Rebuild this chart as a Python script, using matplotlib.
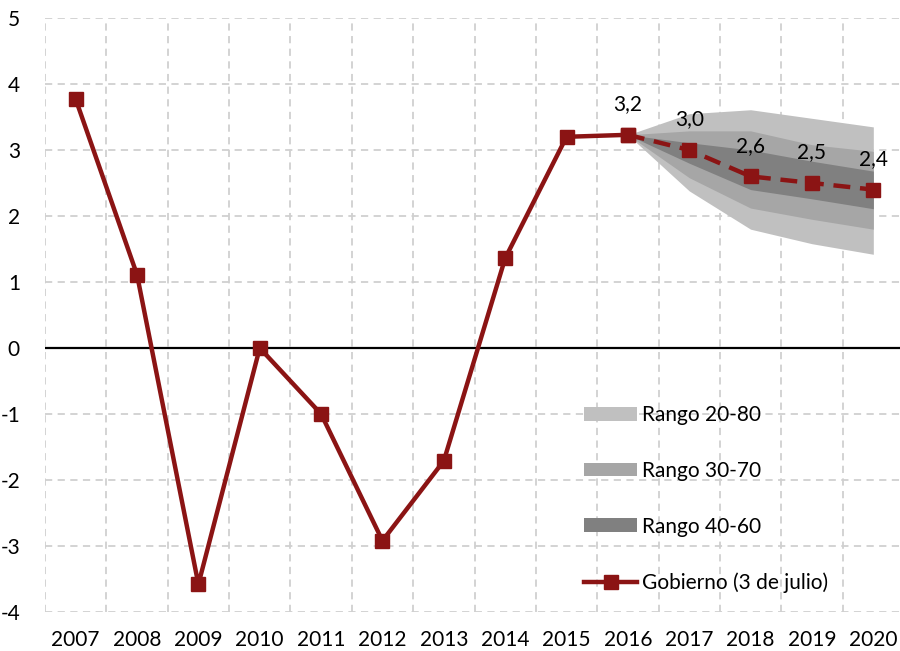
import matplotlib.pyplot as plt
import numpy as np

years = ["2007", "2008", "2009", "2010", "2011", "2012", "2013",
         "2014", "2015", "2016", "2017", "2018", "2019", "2020"]
# historical growth (%)
gobierno_hist = [3.77, 1.11, -3.58, 0.0, -1.0, -2.92, -1.71, 1.36, 3.2, 3.23]
# forecast, starting at 2016
fc_years = ["2016", "2017", "2018", "2019", "2020"]
gobierno_fc = [3.23, 3.0, 2.6, 2.5, 2.4]
fc_labels = ["3,2", "3,0", "2,6", "2,5", "2,4"]

r20_80_hi = [3.23, 3.55, 3.61, 3.48, 3.35]
r20_80_lo = [3.23, 2.38, 1.80, 1.58, 1.42]
r30_70_hi = [3.23, 3.29, 3.29, 3.08, 2.98]
r30_70_lo = [3.23, 2.58, 2.12, 1.95, 1.80]
r40_60_hi = [3.23, 3.11, 3.0, 2.83, 2.68]
r40_60_lo = [3.23, 2.80, 2.40, 2.26, 2.11]

red = "#8b1414"
plt.rcParams['font.family'] = ['Lato', 'DejaVu Sans']
plt.rcParams['axes.unicode_minus'] = False

fig = plt.figure(figsize=(9, 6.51), dpi=100)
ax = fig.add_axes([45 / 900, 39 / 651, 859 / 900, 594 / 651])

x = np.arange(len(years))
xf = np.array([years.index(y) for y in fc_years])

ax.fill_between(xf, r20_80_lo, r20_80_hi, color="#c0c0c0", lw=0, label="Rango 20-80", zorder=2)
ax.fill_between(xf, r30_70_lo, r30_70_hi, color="#a6a6a6", lw=0, label="Rango 30-70", zorder=2)
ax.fill_between(xf, r40_60_lo, r40_60_hi, color="#808080", lw=0, label="Rango 40-60", zorder=2)

ax.plot(x[:len(gobierno_hist)], gobierno_hist, color=red, lw=3.2, marker="s", ms=10,
        label="Gobierno (3 de julio)", zorder=4)
ax.plot(xf, gobierno_fc, color=red, lw=3.2, ls=(0, (3.8, 2.2)), marker="s", ms=10, zorder=4)

for xi, v, t in zip(xf, gobierno_fc, fc_labels):
    ax.annotate(t, (xi, v), xytext=(0, 22), textcoords="offset points",
                ha="center", va="center", fontsize=15)

ax.axhline(0, color="black", lw=1.6, zorder=3)

ax.set_xlim(-0.5, 13.5)
ax.set_ylim(-4, 5)
ax.set_yticks(range(-4, 6))
ax.set_xticks(x)
ax.set_xticklabels(years)
ax.set_xticks(np.arange(-0.5, 14, 1), minor=True)
ax.tick_params(which="both", length=0, labelsize=15)
ax.tick_params(axis="y", pad=18)
ax.tick_params(axis="x", pad=13)
ax.grid(which="major", axis="y", color="#d0d0d0", ls=(0, (4, 3)), lw=1.3, zorder=0)
ax.grid(which="minor", axis="x", color="#d0d0d0", ls=(0, (4, 3)), lw=1.3, zorder=0)
ax.set_axisbelow(True)
for s in ax.spines.values():
    s.set_visible(False)

ax.legend(loc="upper left", bbox_to_anchor=(584 / 900, (651 - 405) / 651),
          bbox_transform=fig.transFigure, frameon=False, fontsize=15,
          borderaxespad=0, borderpad=0, labelspacing=1.72, handlelength=2.55,
          handletextpad=0.25, handleheight=0.65)

fig.savefig("out.png", dpi=100)
